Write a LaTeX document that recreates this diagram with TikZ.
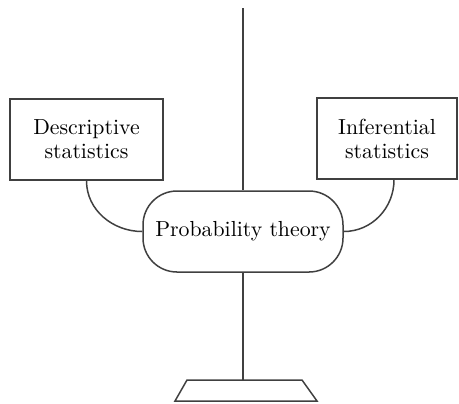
\documentclass[tikz,border=0pt]{standalone}
\usetikzlibrary{shapes.misc}
\begin{document}
\begin{tikzpicture}[x=0.5pt,y=-0.5pt,
    frame/.style={draw=black!75,line width=0.75pt},
    statbox/.style={frame,rectangle,align=center,inner sep=0pt,minimum height=40.5pt,
      font=\fontsize{10.9}{12}\selectfont},
    pill/.style={frame,rectangle,rounded corners=17pt,inner sep=0pt,minimum width=100pt,
      minimum height=40.5pt,font=\fontsize{10.9}{12}\selectfont}]
  \useasboundingbox (0,0) rectangle (459,403);
  \node[statbox,minimum width=76.5pt] (desc) at (86.5,139.5) {Descriptive\\statistics};
  \node[statbox,minimum width=70pt] (infer) at (387,138.5) {Inferential\\statistics};
  \node[pill] (prob) at (243,231.5) {Probability theory};
  \coordinate (top) at (243,8);
  \coordinate (basetop) at (243,380);
  \draw[frame] (top) -- (prob.north);
  \draw[frame] (prob.south) -- (basetop);
  \draw[frame] (175,401) -- (187,380) -- (302,380) -- (317,401) -- cycle;
  \draw[frame] (desc.south) to[out=-90,in=180] (prob.west);
  \draw[frame] ([xshift=3.5pt]infer.south) to[out=-90,in=0] (prob.east);
\end{tikzpicture}
\end{document}
